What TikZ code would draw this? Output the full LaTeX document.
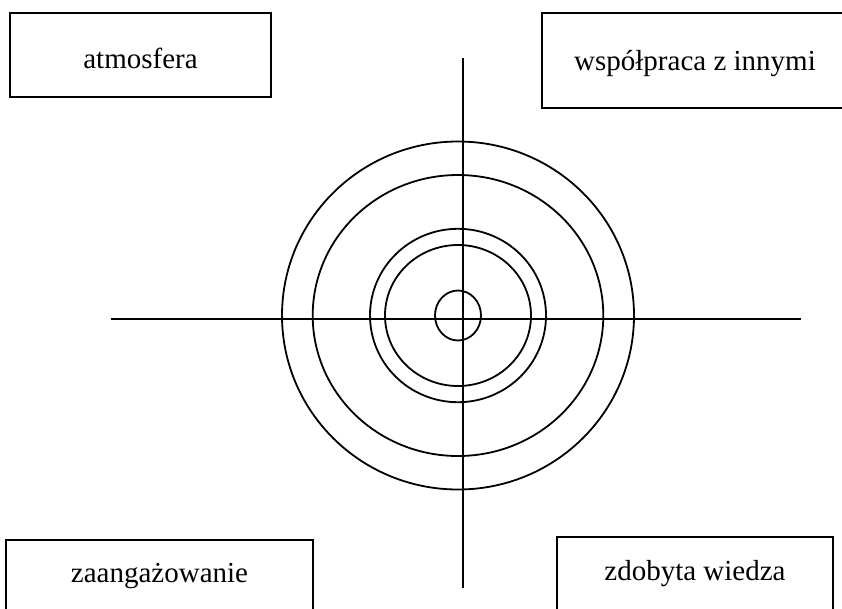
\documentclass[tikz,border=0pt]{standalone}
\usepackage{fontspec}
\setmainfont{Liberation Serif}
\tikzset{
    frame/.style={draw,line width=1.9pt,inner sep=0pt},
    label/.style={anchor=base,inner sep=0pt,font=\fontsize{29}{34}\selectfont},
    ring/.style={line width=1.8pt},
    axis/.style={line width=1.9pt}
}
\begin{document}
\begin{tikzpicture}[x=1pt,y=-1pt]

    \useasboundingbox (0,0) rectangle (842,608);
    \clip (0,0) rectangle (842,608);

    % axes
    \coordinate (W) at (110.7,319.3);
    \coordinate (E) at (800.7,319.3);
    \coordinate (N) at (462.7,58.3);
    \coordinate (S) at (462.7,588.3);
    \draw[axis] (W) -- (E);
    \draw[axis] (N) -- (S);

    % target rings: x radius / y radius
    \coordinate (C) at (458,315.5);
    \foreach \rx/\ry in {23/25, 73/70.5, 88/86.7, 145.3/140.5, 176/174} {
        \draw[ring] (C) ellipse ({\rx} and {\ry});
    }

    % boxes in the corners
    \node[frame,minimum width=261,minimum height=84] (atmbox) at (140.5,55) {};
    \node[frame,minimum width=306,minimum height=95] (wspbox) at (695,60.5) {};
    \node[frame,minimum width=307,minimum height=90] (zaabox) at (159.5,585.3) {};
    \node[frame,minimum width=276,minimum height=90] (zdobox) at (695,581.7) {};

    % texts, on their baselines
    \node[label] (atm) at (140.5,68.3) {atmosfera};
    \node[label] (wsp) at (695,70) {współpraca z innymi};
    \node[label] (zaa) at (159.5,582.7) {zaangażowanie};
    \node[label] (zdo) at (695,580.7) {zdobyta wiedza};

\end{tikzpicture}
\end{document}
